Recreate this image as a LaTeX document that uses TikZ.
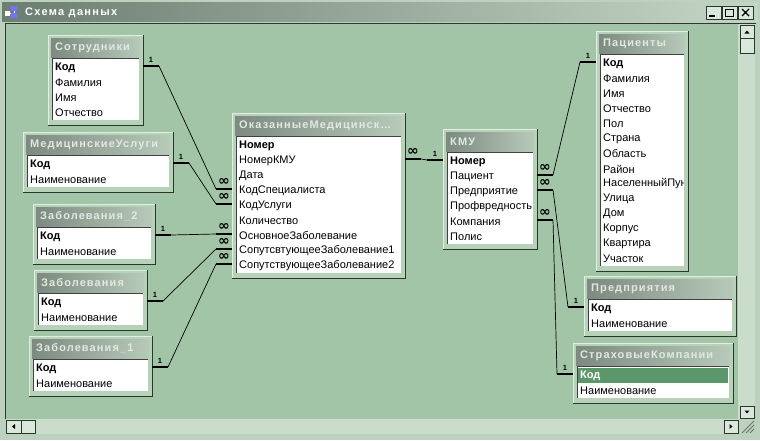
\documentclass[tikz,border=0pt]{standalone}
\usepackage{fontspec}
\setmainfont{Liberation Sans}
\newfontfamily\symfont{DejaVu Sans}
\usetikzlibrary{calc}
\definecolor{winface}{HTML}{BCD2BE}
\definecolor{clientbg}{HTML}{A3C5A7}
\definecolor{trackbg}{HTML}{CADDCB}
\definecolor{framebg}{HTML}{B6D3BA}
\definecolor{framehi}{HTML}{E2EEE2}
\definecolor{framelo}{HTML}{2B362D}
\definecolor{capleft}{HTML}{7C8A80}
\definecolor{capright}{HTML}{B7CAB9}
\definecolor{captext}{HTML}{E2E8E2}
\definecolor{wcapleft}{HTML}{6C7E71}
\definecolor{wcapright}{HTML}{C4D6C5}
\definecolor{selrow}{HTML}{5B976A}
\begin{document}
\begin{tikzpicture}
[x=1pt,y=-1pt,
  tframe/.style={fill=framebg,inner sep=0pt,outer sep=0pt,anchor=north west},%
  tcaption/.style={anchor=west,inner sep=0pt,text=captext,
    font=\fontsize{11}{12}\selectfont\bfseries\addfontfeature{LetterSpace=10}},%
  trow/.style={anchor=west,inner sep=0pt,font=\fontsize{11}{12}\selectfont},%
  relbar/.style={line width=2.6pt},%
  relline/.style={line width=0.7pt},%
  onemark/.style={midway,above=2.5pt,inner sep=0pt,font=\fontsize{7.5}{8}\selectfont\bfseries},%
  manymark/.style={midway,above=2pt,inner sep=0pt,font=\symfont\fontsize{14}{14}\selectfont\bfseries},%
  sbutton/.style={fill=trackbg!70!white,draw=framelo,line width=0.6pt}]
\useasboundingbox (0,0) rectangle (760,440);
%% window frame, caption and scroll bars
\fill[winface] (0,0) rectangle (760,440);
\shade[left color=wcapleft,right color=wcapright] (2,2) rectangle (758,21);
\fill[white] (5,11) rectangle (10,16);
\fill[blue!55] (11,6) rectangle (17,11);
\fill[blue!55] (11,13) rectangle (17,18);
\draw[white,line width=0.8pt] (10,13.5) -- (11,13.5) (14,11) -- (14,13);
\node[anchor=west,inner sep=0pt,text=white,
  font=\fontsize{11}{12}\selectfont\bfseries\addfontfeature{LetterSpace=12}] (wtitle) at (25,13) {Схема данных};
\foreach \bx in {706,722,738}
  \draw[sbutton] (\bx,6) rectangle ++(15,13);
\fill (709,15) rectangle (715,17);
\draw[line width=0.8pt] (725.5,9.5) rectangle (733.5,16.5);
\draw[line width=1.8pt] (725.5,9.5) -- (733.5,9.5);
\draw[line width=1.3pt] (742,9) -- (749,16) (742,16) -- (749,9);
\fill[clientbg] (5,23) rectangle (738,419);
\draw[black!80,line width=1pt] (5,419) -- (5,23) -- (756,23);
\fill[trackbg] (738,23.5) rectangle (755,419);
\fill[trackbg] (5.5,419) rectangle (738,434);
\draw[sbutton] (740,25) rectangle (754,38);
\draw[sbutton] (740,38) rectangle (754,53);
\draw[sbutton] (740,406) rectangle (754,418);
\draw[sbutton] (6,420) rectangle (21,433);
\draw[sbutton] (21,420) rectangle (35,433);
\draw[sbutton] (724,420) rectangle (738,433);
\fill (744.5,33.5) -- (749.5,33.5) -- (747,30.5) -- cycle;
\fill (744.5,410.5) -- (749.5,410.5) -- (747,413.5) -- cycle;
\fill (15,424) -- (15,429) -- (12,426.5) -- cycle;
\fill (729.5,424) -- (729.5,429) -- (732.5,426.5) -- cycle;
\foreach \gs in {4,8,12}
  \draw[framelo!70,line width=0.8pt] (754-\gs,433) -- (754,433-\gs);
%% tables
\foreach \tid/\tx/\ty/\tw/\tn/\tsel/\ttitle/\trows in {
  sotr/48/35/95/4/0/Сотрудники/{Код,Фамилия,Имя,Отчество},
  medu/23/132/150/2/0/МедицинскиеУслуги/{Код,Наименование},
  zabb/33/204/122/2/0/Заболевания\_2/{Код,Наименование},
  zaba/34/270/113/2/0/Заболевания/{Код,Наименование},
  zabc/29/336/123/2/0/Заболевания\_1/{Код,Наименование},
  omu/232/113/173/9/0/{ОказанныеМедицинск\ldots}/{Номер,НомерКМУ,Дата,КодСпециалиста,КодУслуги,Количество,ОсновноеЗаболевание,СопутсвтующееЗаболевание1,СопутствующееЗаболевание2},
  kmu/443/129/94/6/0/КМУ/{Номер,Пациент,Предприятие,Профвредность,Компания,Полис},
  pac/596/31/92/14/0/Пациенты/{Код,Фамилия,Имя,Отчество,Пол,Страна,Область,Район,НаселенныйПункт,Улица,Дом,Корпус,Квартира,Участок},
  pred/584/276/152/2/0/Предприятия/{Код,Наименование},
  strah/573/343/160/2/1/СтраховыеКомпании/{Код,Наименование}}
{
  \pgfmathsetmacro\tabh{30+15*\tn}
  \node[tframe,minimum width=\tw pt,minimum height=\tabh pt] (\tid) at (\tx,\ty) {};
  \draw[framehi] (\tid.south west) -- (\tid.north west) -- (\tid.north east);
  \draw[framelo,line width=1pt] (\tid.north east) -- (\tid.south east) -- (\tid.south west);
  \shade[left color=capleft,right color=capright]
    ([shift={(3,3)}]\tid.north west) rectangle ([shift={(-3,22)}]\tid.north east);
  \node[tcaption] (\tid-cap) at ([shift={(7,12.5)}]\tid.north west) {\ttitle};
  \fill[white] ([shift={(4,23)}]\tid.north west) rectangle ([shift={(-4,-5)}]\tid.south east);
  \draw[black!75] ([shift={(4,-5)}]\tid.south west) -- ([shift={(4,23)}]\tid.north west)
    -- ([shift={(-4,23)}]\tid.north east);
  \begin{scope}
    \clip ([shift={(5,24)}]\tid.north west) rectangle ([shift={(-5,-5)}]\tid.south east);
    \foreach \r [count=\i] in \trows {
      \ifnum\i=\tsel
        \fill[selrow] ([shift={(5,{25+15*(\i-1)})}]\tid.north west)
          rectangle ([shift={(-5,{40+15*(\i-1)})}]\tid.north east);
      \fi
      \node[trow] (\tid-\i) at ([shift={(7,{33+15*(\i-1)})}]\tid.north west)
        {\ifnum\i=1 \bfseries\fi\ifnum\i=\tsel \color{white}\fi\r};
    }
  \end{scope}
}
%% relations: one end, many end
\foreach \one/\oi/\os/\od/\many/\mi/\ms/\md in {
  sotr/1/east/16/omu/4/west/-16, medu/1/east/16/omu/5/west/-16,
  zabb/1/east/16/omu/7/west/-16, zaba/1/east/16/omu/8/west/-16,
  zabc/1/east/16/omu/9/west/-16, kmu/1/west/-16/omu/2/east/16,
  pac/1/west/-16/kmu/2/east/16, pred/1/west/-16/kmu/3/east/16,
  strah/1/west/-16/kmu/5/east/16}
{
  \draw[relbar] ($(\one.\os |- \one-\oi)+(0,-2)$) -- ++(\od,0)
    node[onemark] (\one-\oi-one) {1} coordinate (\one-\oi-s);
  \draw[relbar] ($(\many.\ms |- \many-\mi)+(0,-2)$) -- ++(\md,0)
    node[manymark] (\many-\mi-many) {∞} coordinate (\many-\mi-s);
  \draw[relline] (\one-\oi-s) -- (\many-\mi-s);
}
\end{tikzpicture}
\end{document}
